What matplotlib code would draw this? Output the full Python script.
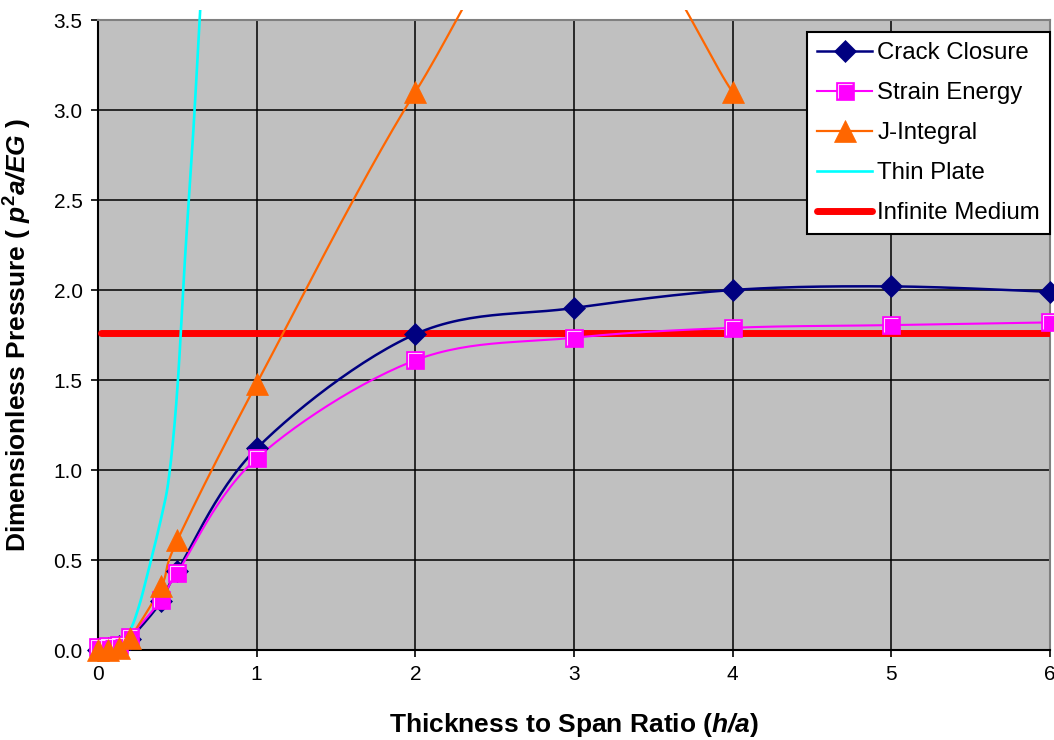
import numpy as np
import matplotlib
matplotlib.use("Agg")
import matplotlib.pyplot as plt
from matplotlib.path import Path
from matplotlib.patches import Rectangle
from matplotlib.lines import Line2D
from matplotlib.legend_handler import HandlerTuple

plt.rcParams['font.family'] = ['Liberation Sans', 'DejaVu Sans']
plt.rcParams['mathtext.fontset'] = 'custom'
plt.rcParams['mathtext.rm'] = 'Liberation Sans'
plt.rcParams['mathtext.it'] = 'Liberation Sans:italic'
plt.rcParams['mathtext.bf'] = 'Liberation Sans:bold'
plt.rcParams['mathtext.bfit'] = 'Liberation Sans:bold:italic'

# ---- data -------------------------------------------------------------
ratio = [0.0, 0.065, 0.13, 0.2, 0.4, 0.5, 1, 2, 3, 4, 5, 6]
crack_closure = [0.0, 0.01, 0.02, 0.06, 0.27, 0.44, 1.12, 1.755, 1.90, 2.00, 2.02, 1.99]
strain_energy = [0.015, 0.02, 0.03, 0.075, 0.28, 0.43, 1.065, 1.61, 1.735, 1.79, 1.805, 1.82]

ratio_j = [0.0, 0.065, 0.13, 0.2, 0.4, 0.5, 1, 2, 3, 4]
j_integral = [0.0, 0.0, 0.01, 0.065, 0.355, 0.61, 1.48, 3.1, 4.3, 3.1]

ratio_tp = [0.0, 0.1, 0.2, 0.25, 0.3, 0.4, 0.45, 0.5, 0.55, 0.6, 0.65]
thin_plate = [0.0, 0.015, 0.11, 0.22, 0.38, 0.74, 0.98, 1.45, 2.2, 2.87, 3.65]

ratio_inf = [0.02, 6.0]
infinite_medium = [1.76, 1.76]

x_ticks = [0, 1, 2, 3, 4, 5, 6]
y_ticks = [0.0, 0.5, 1.0, 1.5, 2.0, 2.5, 3.0, 3.5]

labels = ['Crack Closure', 'Strain Energy', 'J-Integral', 'Thin Plate', 'Infinite Medium']

NAVY = '#000080'
MAGENTA = '#FF00FF'
ORANGE = '#FF6600'
CYAN = '#00FFFF'
RED = '#FF0000'


def smooth(x, y, n=30):
    """Spreadsheet-style smoothed line: cubic Bezier segments with
    control points taken from neighbouring points (tension 1/6)."""
    p = np.column_stack([np.asarray(x, float), np.asarray(y, float)])
    out = [p[0]]
    m = len(p)
    t = np.linspace(0, 1, n)[1:, None]
    for i in range(m - 1):
        p0 = p[max(i - 1, 0)]
        p1 = p[i]
        p2 = p[i + 1]
        p3 = p[min(i + 2, m - 1)]
        c1 = p1 + (p2 - p0) / 6.0
        c2 = p2 - (p3 - p1) / 6.0
        seg = ((1 - t) ** 3) * p1 + 3 * ((1 - t) ** 2) * t * c1 \
            + 3 * (1 - t) * t ** 2 * c2 + t ** 3 * p2
        out.extend(seg)
    out = np.array(out)
    return out[:, 0], out[:, 1]


fig = plt.figure(figsize=(10.54, 7.40), dpi=100)
ax = fig.add_axes([98 / 1054, 90 / 740, 952 / 1054, 630 / 740])
ax.set_facecolor('#C0C0C0')
ax.set_xlim(0, 6)
ax.set_ylim(0, 3.5)

# lines may run slightly past the top of the plot area
clip = Rectangle((0, 0), 1, 1 + 10 / 630, transform=ax.transAxes)

ax.plot(ratio_inf, infinite_medium, color=RED, lw=5.0,
        solid_capstyle='round', zorder=3)

series = [
    (ratio, crack_closure, NAVY, 1.8),
    (ratio, strain_energy, MAGENTA, 1.5),
    (ratio_j, j_integral, ORANGE, 1.6),
    (ratio_tp, thin_plate, CYAN, 1.9),
]
for xs, ys, col, lw in series:
    sx, sy = smooth(xs, ys)
    ln, = ax.plot(sx, sy, color=col, lw=lw, zorder=4)
    ln.set_clip_path(clip)

# markers
diamond_kw = dict(marker='D', ms=11.0, mfc=NAVY, mec=NAVY, mew=0.5)
square_kw = dict(marker='s', ms=13.2, mfc=MAGENTA, mec=MAGENTA, mew=0.5)
corner = Path([(-1, -1), (-1, 1), (1, 1)], [Path.MOVETO, Path.LINETO, Path.LINETO])
corner_kw = dict(marker=corner, ms=9.6, mfc='none', mec='#FFD0FF', mew=0.8, ls='none')
tri_kw = dict(marker='^', ms=15.5, mfc=ORANGE, mec=ORANGE, mew=0.5)

ax.plot(ratio, crack_closure, ls='none', zorder=5, clip_on=False, **diamond_kw)
ax.plot(ratio, strain_energy, ls='none', zorder=6, clip_on=False, **square_kw)
ax.plot(ratio, strain_energy, zorder=6.5, clip_on=False, **corner_kw)
ax.plot(ratio_j, j_integral, ls='none', zorder=7, clip_on=False, **tri_kw)

# grid, spines, ticks
ax.set_xticks(x_ticks)
ax.set_yticks(y_ticks)
ax.set_yticklabels([f'{v:.1f}' for v in y_ticks])
ax.grid(True, color='black', lw=1.1)
ax.set_axisbelow(True)
for side in ('top', 'right'):
    ax.spines[side].set_color('#808080')
    ax.spines[side].set_linewidth(1.5)
for side in ('left', 'bottom'):
    ax.spines[side].set_color('black')
    ax.spines[side].set_linewidth(1.5)
ax.tick_params(axis='both', direction='out', length=5, width=1.2,
               labelsize=15, colors='black', pad=6)

ax.set_xlabel(r'Thickness to Span Ratio ($\mathbfit{h/a}$)',
              fontsize=19, fontweight='bold', labelpad=19)
ax.set_ylabel(r'Dimensionless Pressure ( $\mathbfit{p}^{\mathbf{2}}\mathbfit{a/EG}$ )',
              fontsize=19, fontweight='bold', labelpad=14)

# legend
h_cc = Line2D([], [], color=NAVY, lw=1.8, **diamond_kw)
h_se = Line2D([], [], color=MAGENTA, lw=1.5, **square_kw)
h_se2 = Line2D([], [], **corner_kw)
h_ji = Line2D([], [], color=ORANGE, lw=1.6, **tri_kw)
h_tp = Line2D([], [], color=CYAN, lw=1.9)
h_im = Line2D([], [], color=RED, lw=5.0, solid_capstyle='round')
leg = ax.legend([h_cc, (h_se, h_se2), h_ji, h_tp, h_im], labels,
                handler_map={tuple: HandlerTuple(ndivide=1, pad=0)},
                loc='upper right', bbox_to_anchor=(1.0, 1 - 12 / 630),
                borderaxespad=0, fontsize=17.3, frameon=True, fancybox=False,
                handlelength=2.3, handletextpad=0.2, labelspacing=0.75,
                borderpad=0.42)
leg.get_frame().set_edgecolor('black')
leg.get_frame().set_linewidth(1.5)
leg.get_frame().set_facecolor('white')
leg.get_frame().set_alpha(1)
leg.set_zorder(10)

fig.savefig('out.png', dpi=100)
